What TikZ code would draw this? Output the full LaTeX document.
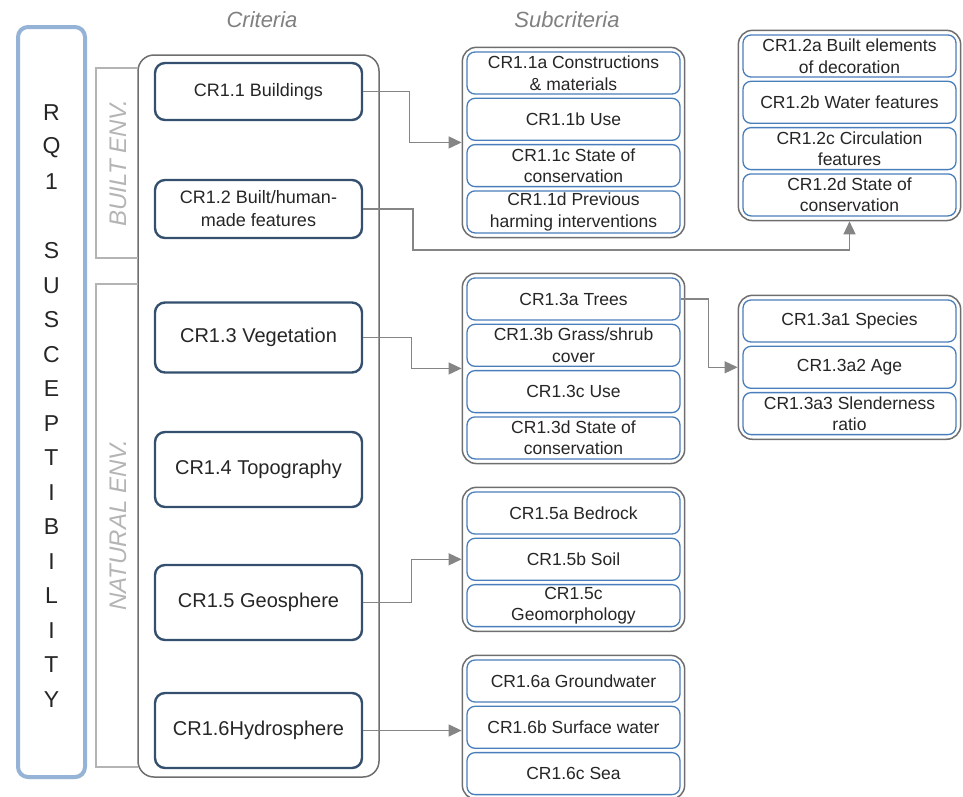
\documentclass[tikz,border=0pt]{standalone}
\usepackage{fontspec}
\setmainfont{Liberation Sans}
\usepackage{tikz}
\usetikzlibrary{arrows.meta,positioning,fit,shadows}
\definecolor{critblue}{HTML}{34506E}
\definecolor{subblue}{HTML}{4A7EBB}
\definecolor{rqblue}{HTML}{95B3D7}
\definecolor{framegray}{HTML}{6E6E6E}
\definecolor{linkgray}{HTML}{858585}
\definecolor{envgray}{HTML}{B4B4B4}
\definecolor{inkgray}{HTML}{262626}
\tikzset{%
  critnode/.style  = {shape=rectangle, rounded corners=10pt,%
                      draw=critblue, line width=2.4pt, fill=white,%
                      align=center, minimum width=207pt, text=inkgray,%
                      font=\fontsize{20}{23}\selectfont},%
  subnode/.style   = {shape=rectangle, rounded corners=8pt,%
                      draw=subblue, line width=1.3pt, fill=white,%
                      align=center, minimum width=213pt, minimum height=42pt,%
                      inner sep=1pt, text=inkgray, font=\fontsize{17.5}{21.5}\selectfont},%
  grp/.style       = {rounded corners=14pt, draw=framegray, line width=1.5pt, inner sep=4pt},%
  critframe/.style = {rounded corners=16pt, draw=framegray, line width=1.5pt,%
                      minimum width=241pt, minimum height=722pt},%
  rqbox/.style     = {rounded corners=10pt, draw=rqblue, line width=4pt, fill=white,%
                      minimum width=67pt, minimum height=750pt,%
                      drop shadow={opacity=0.25, shadow xshift=1pt, shadow yshift=-2pt}},%
  rqletter/.style  = {text=inkgray, font=\fontsize{23}{25}\selectfont},%
  link/.style      = {draw=linkgray, line width=1.4pt, -{Triangle[length=13pt,width=12pt]}},%
  envline/.style   = {draw=envgray, line width=1.2pt},%
  envlabel/.style  = {rotate=90, text=envgray, font=\fontsize{24}{26}\selectfont\itshape},%
  head/.style      = {text=gray, font=\fontsize{22}{24}\selectfont\itshape}%
}
\begin{document}
\begin{tikzpicture}[x=1pt, y=-1pt]
  \useasboundingbox (0,0) rectangle (963,796);
  % research question
  \node[rqbox] (rq) at (51.5,402) {};
  \foreach \ch [count=\i] in {R,Q,1,{},S,U,S,C,E,P,T,I,B,I,L,I,T,Y}
    \node[rqletter] (rq\i) at (51.5,{113+34.5*(\i-1)}) {\ch};
  \node[head] (crithead) at (262,20) {Criteria};
  \node[head] (subhead) at (567,20) {Subcriteria};
  % criteria
  \node[critframe] (crit) at (258.5,416) {};
  \draw[envline] (138,68) -| (96,258) -- (138,258);
  \draw[envline] (138,284) -| (96,767) -- (138,767);
  \node[envlabel] (built) at (118,163) {BUILT ENV.};
  \node[envlabel] (natural) at (118,525) {NATURAL ENV.};
  \node[critnode, minimum height=57pt, font=\fontsize{18}{23}\selectfont] (c11) at (258.5,91.5) {CR1.1 Buildings};
  \node[critnode, minimum height=58pt, font=\fontsize{18}{23}\selectfont] (c12) at (258.5,209) {CR1.2 Built/human-\\made features};
  \node[critnode, minimum height=70pt] (c13) at (258.5,337.5) {CR1.3 Vegetation};
  \node[critnode, minimum height=75pt] (c14) at (258.5,469.5) {CR1.4 Topography};
  \node[critnode, minimum height=75pt] (c15) at (258.5,602.5) {CR1.5 Geosphere};
  \node[critnode, minimum height=75pt] (c16) at (258.5,730.5) {CR1.6Hydrosphere};
  % subcriteria
  \node[subnode] (s11a) at (573.5,73) {CR1.1a Constructions\\\& materials};
  \node[subnode, below=3pt of s11a] (s11b) {CR1.1b Use};
  \node[subnode, below=3pt of s11b] (s11c) {CR1.1c State of\\conservation};
  \node[subnode, below=3pt of s11c] (s11d) {CR1.1d Previous\\harming interventions};
  \node[grp, fit=(s11a)(s11d)] (g11) {};
  \node[subnode] (s12a) at (849.5,56) {CR1.2a Built elements\\of decoration};
  \node[subnode, below=3pt of s12a] (s12b) {CR1.2b Water features};
  \node[subnode, below=3pt of s12b] (s12c) {CR1.2c Circulation\\features};
  \node[subnode, below=3pt of s12c] (s12d) {CR1.2d State of\\conservation};
  \node[grp, fit=(s12a)(s12d)] (g12) {};
  \node[subnode] (s13a) at (573.5,299) {CR1.3a Trees};
  \node[subnode, below=3pt of s13a] (s13b) {CR1.3b Grass/shrub\\cover};
  \node[subnode, below=3pt of s13b] (s13c) {CR1.3c Use};
  \node[subnode, below=3pt of s13c] (s13d) {CR1.3d State of\\conservation};
  \node[grp, fit=(s13a)(s13d)] (g13) {};
  \node[subnode] (s13a1) at (849.5,321) {CR1.3a1 Species};
  \node[subnode, below=3pt of s13a1] (s13a2) {CR1.3a2 Age};
  \node[subnode, below=3pt of s13a2] (s13a3) {CR1.3a3 Slenderness\\ratio};
  \node[grp, fit=(s13a1)(s13a3)] (g13a) {};
  \node[subnode] (s15a) at (573.5,513) {CR1.5a Bedrock};
  \node[subnode, below=3pt of s15a] (s15b) {CR1.5b Soil};
  \node[subnode, below=3pt of s15b] (s15c) {CR1.5c\\Geomorphology};
  \node[grp, fit=(s15a)(s15c)] (g15) {};
  \node[subnode] (s16a) at (573.5,681) {CR1.6a Groundwater};
  \node[subnode, below=3pt of s16a] (s16b) {CR1.6b Surface water};
  \node[subnode, below=3pt of s16b] (s16c) {CR1.6c Sea};
  \node[grp, fit=(s16a)(s16c)] (g16) {};
  % links
  \coordinate (k12) at (413,250);
  \draw[link] (c11.east) -- ++(46,0) |- (g11.west);
  \draw[link] (c12.east) -| (k12) -| (g12.south);
  \draw[link] (c13.east) -- ++(48,0) |- (g13.west);
  \draw[link] (s13a.east) -- ++(28,0) |- (g13a.west);
  \draw[link] (c15.east) -- ++(48,0) |- (g15.west);
  \draw[link] (c16.east) -- (c16.east -| g16.west);
\end{tikzpicture}
\end{document}
